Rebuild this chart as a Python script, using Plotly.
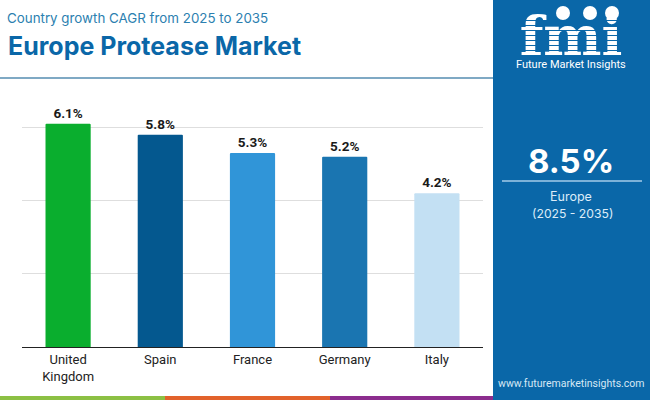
import plotly.graph_objects as go

countries = ["United<br>Kingdom", "Spain", "France", "Germany", "Italy"]
cagr = [6.1, 5.8, 5.3, 5.2, 4.2]
bar_colors = ["#0aae2e", "#04588f", "#3095d8", "#1a75b1", "#c3e0f3"]
y_ticks = [0, 2, 4, 6]

BLUE = "#0a67a8"
W, H = 650, 400


def px(x):
    return x / W


def py(y):
    return 1 - y / H


def rect(x0, y0, x1, y1, color):
    return dict(type="rect", xref="paper", yref="paper", x0=px(x0), x1=px(x1),
                y0=py(y0), y1=py(y1), fillcolor=color, line_width=0, layer="below")


def label(x, y, text, size, color, family="Inter", anchor="center"):
    return dict(xref="paper", yref="paper", x=px(x), y=py(y), text=text, showarrow=False,
                xanchor=anchor, yanchor="middle", align="center",
                font=dict(size=size, color=color, family=family))


fig = go.Figure(go.Bar(
    x=countries, y=cagr, width=0.49,
    marker=dict(color=bar_colors, line_width=0, cornerradius=1),
    text=[f"<b>{v}%</b>" for v in cagr], textposition="outside", cliponaxis=False,
    textfont=dict(size=13.5, color="#1a1a1a", family="Roboto"),
))

# logo letters as a trace so the stripes can sit on top of them
fig.add_trace(go.Scatter(
    x=[571], y=[41], mode="text", text=["<b>fmi</b>"], textposition="middle center",
    textfont=dict(size=55, color="white", family="DejaVu Serif"),
    xaxis="x2", yaxis="y2", cliponaxis=False, hoverinfo="skip",
))

# --- panel + header + stripes ---
shapes = [
    rect(493, 0, 650, 400, BLUE),
    rect(0, 77, 493, 79, "#7fa9c4"),
    rect(0, 396, 165, 400, "#8cc044"),
    rect(165, 396, 330, 400, "#e2622b"),
    rect(330, 396, 493, 400, "#8c2d8e"),
    dict(type="line", xref="paper", yref="paper", x0=px(502), x1=px(642), y0=py(181), y1=py(181),
         line=dict(color="#a5cbe8", width=1.5)),
]

annotations = [
    label(5, 18, "Country growth CAGR from 2025 to 2035", 13.35, "#2c7fb0", anchor="left"),
    label(6, 46, "<b>Europe Protease Market</b>", 25, "#0a67a8", anchor="left"),
    label(571, 161, "<b>8.5%</b>", 33, "white"),
    label(571, 197, "Europe", 12.5, "#dcecf8"),
    label(572, 213, "(2025 - 2035)", 12.2, "#dcecf8"),
    label(571, 383, "www.futuremarketinsights.com", 10.5, "#d5e7f5", family="Roboto"),
    label(571, 64, "Future Market Insights", 11, "white", family="Roboto"),
]

# logo stripes and globes
for y in range(20, 56, 5):
    shapes.append(dict(type="rect", xref="paper", yref="paper", x0=px(512), x1=px(630),
                       y0=py(y), y1=py(y + 1), fillcolor=BLUE, line_width=0, layer="above"))
for cx, cy in [(563, 13), (590, 13), (612, 13)]:
    shapes.append(dict(type="circle", xref="paper", yref="paper", fillcolor="white", line_width=0,
                       x0=px(cx - 7), x1=px(cx + 7), y0=py(cy - 7), y1=py(cy + 7)))

fig.update_layout(
    width=W, height=H, autosize=False,
    margin=dict(l=0, r=0, t=0, b=0),
    paper_bgcolor="white", plot_bgcolor="rgba(0,0,0,0)",
    showlegend=False, shapes=shapes, annotations=annotations,
    font=dict(family="Roboto"),
    xaxis=dict(domain=[px(22), px(483)], type="category", showline=True, linecolor="#222222", linewidth=1,
               ticks="", tickfont=dict(size=13, color="#222222", family="Roboto")),
    yaxis=dict(domain=[py(347), py(100)], range=[0, 6.75], tickvals=y_ticks, showticklabels=False,
               showgrid=True, gridcolor="#dedede", gridwidth=1, zeroline=False, ticks=""),
    xaxis2=dict(domain=[0, 1], range=[0, W], visible=False, anchor="y2"),
    yaxis2=dict(domain=[0, 1], range=[H, 0], visible=False, anchor="x2"),
)

fig.write_html("out.html", config={"displayModeBar": False},
               post_script="document.body.style.margin='0';document.body.style.overflow='hidden';")
